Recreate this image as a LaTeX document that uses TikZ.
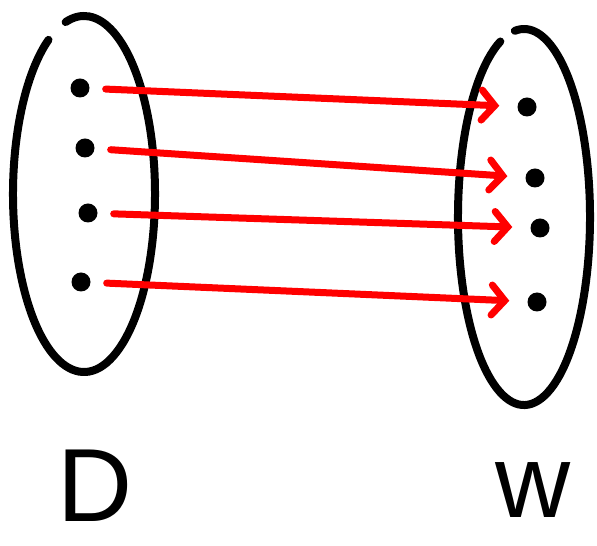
\documentclass[tikz,border=0pt]{standalone}
\usepackage{fontspec}
\setmainfont{Liberation Sans}
\usetikzlibrary{arrows.meta}
\begin{document}
\begin{tikzpicture}[x=1pt, y=1pt, setStyle/.style={draw, line width=8pt, line cap=round}, dotStyle/.style={circle, fill, inner sep=0pt, minimum size=19pt}, mapStyle/.style={draw=red, line width=7pt, line cap=round, -{Straight Barb[length=13pt, width=30pt, line cap=round]}, shorten <=16pt, shorten >=18pt}, labelStyle/.style={font=\fontsize{104}{104}\selectfont, inner sep=0pt}]
    \useasboundingbox (0, 0) rectangle (597, 546);

    % the two sets
    \draw[setStyle] (84, 352) ++(120:71 and 178) arc[start angle=120, end angle=465, x radius=71, y radius=178];
    \draw[setStyle] (524, 329) ++(111:66 and 188) arc[start angle=111, end angle=458, x radius=66, y radius=188];

    \node[dotStyle] (d_0) at ( 80, 458) {};
    \node[dotStyle] (d_1) at ( 85, 398) {};
    \node[dotStyle] (d_2) at ( 88, 333) {};
    \node[dotStyle] (d_3) at ( 81, 264) {};

    \node[dotStyle] (w_0) at (527, 439) {};
    \node[dotStyle] (w_1) at (535, 368) {};
    \node[dotStyle] (w_2) at (540, 318) {};
    \node[dotStyle] (w_3) at (537, 244) {};

    \draw[mapStyle] (d_0) -- (w_0);
    \draw[mapStyle] (d_1) -- (w_1);
    \draw[mapStyle] (d_2) -- (w_2);
    \draw[mapStyle] (d_3) -- (w_3);

    \node[labelStyle, anchor=base] (D_label) at ( 95, 24) {D};
    \node[labelStyle, anchor=base] (W_label) at (533, 28) {w};
\end{tikzpicture}
\end{document}
